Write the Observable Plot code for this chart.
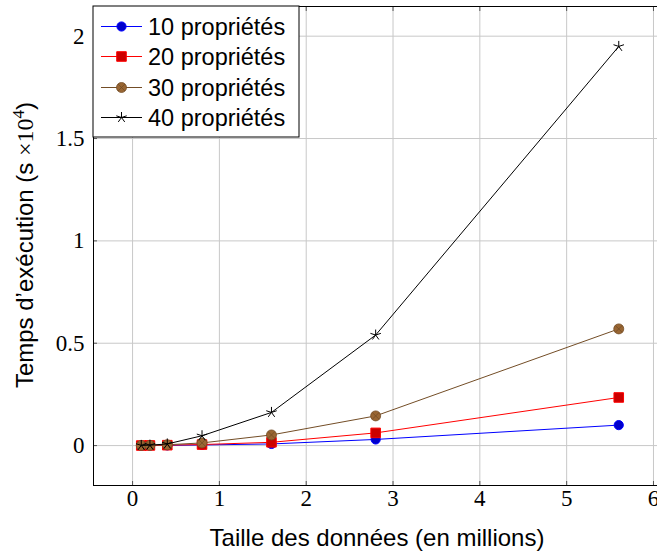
<!DOCTYPE html>
<html>
<head>
<meta charset="utf-8">
<script src="https://cdn.jsdelivr.net/npm/d3@7"></script>
<script src="https://cdn.jsdelivr.net/npm/@observablehq/plot@0.6"></script>
<style>
  html, body { margin: 0; padding: 0; background: white; overflow: hidden; }
</style>
</head>
<body>
<div id="chart"></div>
<script>
// ---- data ----
const sizes = [0.1, 0.2, 0.4, 0.8, 1.6, 2.8, 5.6];
const seriesNames = ["10 propriétés", "20 propriétés", "30 propriétés", "40 propriétés"];
const p10 = [0.0002, 0.0005, 0.001, 0.003, 0.008, 0.03, 0.10];
const p20 = [0.0003, 0.0007, 0.002, 0.005, 0.016, 0.062, 0.235];
const p30 = [0.0005, 0.001, 0.004, 0.013, 0.052, 0.145, 0.57];
const p40 = [0.0008, 0.002, 0.008, 0.048, 0.162, 0.54, 1.95];
const xTicks = [0, 1, 2, 3, 4, 5, 6];
const yTicks = [0, 0.5, 1, 1.5, 2];
const xLabel = "Taille des données (en millions)";

const values = [p10, p20, p30, p40];
const rows = seriesNames.flatMap((s, i) => sizes.map((x, j) => ({x, y: values[i][j], s})));

// ---- custom pgfplots-like symbols ----
const otimes = {
  draw(ctx, size) {
    const r = Math.sqrt(size / Math.PI);
    ctx.moveTo(r, 0);
    ctx.arc(0, 0, r, 0, 2 * Math.PI);
    const d = r * Math.SQRT1_2;
    ctx.moveTo(-d, -d); ctx.lineTo(d, d);
    ctx.moveTo(-d, d); ctx.lineTo(d, -d);
  }
};
const star = {
  draw(ctx, size) {
    const r = Math.sqrt(size / Math.PI);
    for (let k = 0; k < 5; k++) {
      const a = -Math.PI / 2 + 2 * Math.PI * k / 5;
      ctx.moveTo(0, 0);
      ctx.lineTo(r * Math.cos(a), r * Math.sin(a));
    }
  }
};

const styles = [
  {line: "#0000ff", fill: "#0000cc", stroke: "#0000ff", symbol: "circle", r: 4.6, sw: 1},
  {line: "#ff0000", fill: "#cc0000", stroke: "#ff0000", symbol: "square", r: 5.4, sw: 1},
  {line: "#734d26", fill: "#996633", stroke: "#734d26", symbol: otimes, r: 5, sw: 0.8},
  {line: "#000000", fill: "none", stroke: "#000000", symbol: star, r: 5.5, sw: 1}
];

const serif = "'Liberation Serif', 'DejaVu Serif', serif";
const sans = "'Liberation Sans', Arimo, Helvetica, Arial, sans-serif";

const seriesMarks = seriesNames.flatMap((name, i) => {
  const d = rows.filter(r => r.s === name);
  const st = styles[i];
  return [
    Plot.line(d, {x: "x", y: "y", stroke: st.line, strokeWidth: 1}),
    Plot.dot(d, {x: "x", y: "y", symbol: () => st.symbol, r: st.r, fill: st.fill, stroke: st.stroke, strokeWidth: st.sw})
  ];
});

const chart = Plot.plot({
  width: 657,
  height: 552,
  marginLeft: 93,
  marginRight: -9,
  marginTop: 6,
  marginBottom: 67,
  style: {background: "white", fontFamily: serif, color: "black", overflow: "visible"},
  x: {domain: [-0.45, 6.15]},
  y: {domain: [-0.195, 2.145]},
  symbol: {type: "identity"},
  marks: [
    Plot.gridX(xTicks, {stroke: "#c8c8c8", strokeOpacity: 1, strokeWidth: 1}),
    Plot.gridY(yTicks, {stroke: "#c8c8c8", strokeOpacity: 1, strokeWidth: 1}),
    Plot.axisX(xTicks, {anchor: "bottom", tickSize: -4, tickFormat: () => "", label: null, stroke: "#555"}),
    Plot.axisX(xTicks, {anchor: "top", tickSize: -4, tickFormat: () => "", label: null, stroke: "#555"}),
    Plot.axisY(yTicks, {anchor: "left", tickSize: -4, tickFormat: () => "", label: null, stroke: "#555"}),
    Plot.axisX(xTicks, {anchor: "bottom", tickSize: 0, tickPadding: 4, label: null, fontSize: 23, fontFamily: serif, tickFormat: d => String(d)}),
    Plot.axisY(yTicks, {anchor: "left", tickSize: 0, tickPadding: 9, label: null, fontSize: 23, fontFamily: serif, tickFormat: d => String(d)}),
    ...seriesMarks,
    Plot.frame({stroke: "black", strokeWidth: 1})
  ]
});

document.getElementById("chart").appendChild(chart);

// ---- axis titles and legend (added to the svg) ----
const svg = d3.select(chart);

svg.append("text")
  .attr("x", 377).attr("y", 546)
  .attr("text-anchor", "middle")
  .attr("font-family", sans).attr("font-size", 24).attr("fill", "black")
  .text(xLabel);

const yl = svg.append("text")
  .attr("transform", "translate(33,245) rotate(-90)")
  .attr("text-anchor", "middle")
  .attr("font-family", sans).attr("font-size", 24).attr("fill", "black");
yl.append("tspan").text("Temps d’exécution (s ");
yl.append("tspan").attr("font-family", serif).text("×10");
yl.append("tspan").attr("font-family", serif).attr("font-size", 17).attr("dy", -9).text("4");
yl.append("tspan").attr("dy", 9).text(")");

const lg = svg.append("g");
lg.append("rect").attr("x", 93).attr("y", 6).attr("width", 206).attr("height", 131)
  .attr("fill", "white").attr("stroke", "black").attr("stroke-width", 1);
const rowY = [26.5, 56.5, 87.5, 117.5];
const d3sym = {circle: d3.symbolCircle, square: d3.symbolSquare};
seriesNames.forEach((name, i) => {
  const st = styles[i];
  const y = rowY[i];
  lg.append("line").attr("x1", 101).attr("x2", 142).attr("y1", y).attr("y2", y)
    .attr("stroke", st.line).attr("stroke-width", 1);
  const type = typeof st.symbol === "string" ? d3sym[st.symbol] : st.symbol;
  lg.append("path")
    .attr("d", d3.symbol(type, Math.PI * st.r * st.r)())
    .attr("transform", `translate(121.5,${y})`)
    .attr("fill", st.fill).attr("stroke", st.stroke).attr("stroke-width", st.sw);
  lg.append("text").attr("x", 148).attr("y", y + 8.5)
    .attr("text-anchor", "start")
    .attr("font-family", sans).attr("font-size", 23.5).attr("fill", "black")
    .text(name);
});
</script>
</body>
</html>
